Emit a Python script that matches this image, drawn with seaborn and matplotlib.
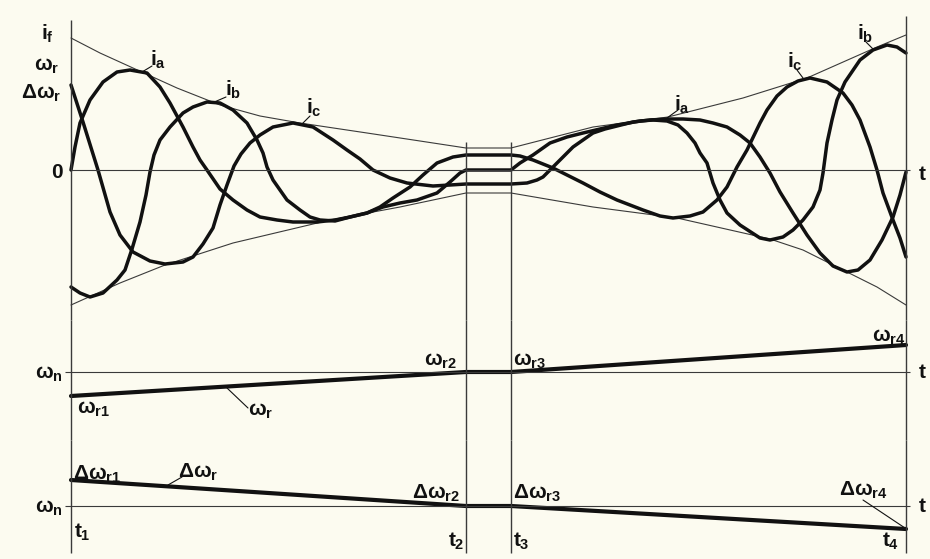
import pandas as pd
import seaborn as sns
import matplotlib.pyplot as plt

t_marks = [0, 395, 440, 835]          # t1, t2, t3, t4

# corrientes de fase (curvas gruesas)
ia_t = [0, 4, 9, 19, 32, 46, 59, 76, 89, 99, 112, 122, 129, 136, 149, 162, 176, 189, 206, 222,
        246, 264, 279, 296, 309, 322, 339, 352, 366, 382, 395, 440, 449, 462, 482, 496, 512, 529,
        546, 572, 589, 602, 619, 632, 646, 656, 666, 676, 689, 696, 706, 716, 727, 739, 756, 772,
        781, 789, 799, 806, 812, 822, 829, 835]
ia_v = [0, 23, 47, 70, 88, 98, 100, 97, 83, 67, 43, 23, 10, 0, -19, -30, -40, -47, -50, -52,
        -52, -50, -47, -43, -37, -28, -17, -5, 7, 13, 15, 15, 14, 10, 2, -5, -13, -22,
        -30, -40, -46, -48, -46, -42, -30, -17, 3, 20, 47, 60, 74, 83, 89, 92, 88, 77,
        65, 50, 23, 0, -23, -50, -68, -87]

ib_t = [0, 9, 19, 32, 46, 54, 61, 69, 75, 79, 83, 89, 99, 112, 122, 136, 149, 162, 176, 186,
        192, 196, 202, 216, 229, 239, 249, 264, 279, 296, 312, 329, 346, 366, 379, 389, 395, 440,
        449, 462, 479, 496, 512, 529, 546, 569, 582, 596, 607, 616, 624, 629, 636, 642, 649, 656,
        669, 689, 699, 712, 722, 732, 742, 749, 752, 756, 761, 766, 774, 789, 802, 816, 826, 835]
ib_v = [-117, -123, -127, -123, -110, -100, -79, -52, -25, -2, 15, 30, 43, 57, 63, 68, 67, 60, 47, 30,
        17, 3, -10, -30, -40, -47, -50, -51, -47, -43, -37, -33, -30, -23, -12, -3, 0, 0,
        7, 15, 27, 33, 37, 41, 45, 49, 50, 49, 45, 37, 27, 17, 7, -13, -30, -43,
        -55, -68, -70, -67, -60, -50, -37, -20, -3, 27, 50, 70, 88, 110, 120, 125, 123, 117]

ic_t = [0, 12, 27, 39, 49, 62, 79, 94, 112, 122, 132, 142, 149, 156, 163, 170, 179, 189, 202, 222,
        242, 262, 276, 289, 302, 319, 336, 362, 379, 395, 440, 456, 466, 472, 479, 486, 494, 502,
        512, 522, 534, 546, 562, 579, 596, 612, 629, 642, 656, 669, 679, 689, 699, 709, 722, 736,
        749, 762, 776, 787, 799, 811, 822, 829, 835]
ic_v = [85, 48, 0, -42, -65, -82, -91, -94, -92, -87, -74, -58, -35, -15, 4, 16, 27, 35, 43, 47,
        43, 30, 20, 11, 0, -8, -13, -16, -15, -14, -14, -13, -10, -7, 0, 7, 15, 23,
        30, 37, 41, 44, 48, 50, 51, 51, 50, 47, 43, 35, 27, 13, -3, -22, -43, -65,
        -83, -96, -102, -100, -90, -70, -47, -25, -2]

# envolventes (lineas finas)
env_up_t = [0, 29, 62, 106, 149, 189, 229, 296, 349, 395, 440, 522, 597, 672, 736, 806, 835]
env_up_v = [132, 117, 102, 82, 65, 54, 47, 37, 29, 22, 22, 43, 53, 72, 92, 123, 135]
env_lo_t = [0, 49, 94, 162, 259, 329, 395, 440, 522, 606, 699, 732, 776, 806, 835]
env_lo_v = [-135, -113, -95, -73, -50, -37, -23, -23, -37, -48, -69, -80, -102, -117, -135]

# velocidad del rotor y deslizamiento
omega_n = 100
omega_r = [76, 100, 100, 127]
delta_omega = [26, 0, 0, -23]

BG = '#fcfbf0'
INK = '#111111'
THIN = '#3a3a3a'
FS = 15

sns.set_theme(style='white')
plt.rcParams['font.family'] = ['Liberation Sans', 'DejaVu Sans']
plt.rcParams['font.weight'] = 'bold'
plt.rcParams['mathtext.fontset'] = 'custom'
for k in ('rm', 'it', 'bf', 'sf'):
    plt.rcParams['mathtext.' + k] = 'Liberation Sans:bold'

df_i = pd.concat([
    pd.DataFrame({'t': ia_t, 'i': ia_v, 'fase': 'a'}),
    pd.DataFrame({'t': ib_t, 'i': ib_v, 'fase': 'b'}),
    pd.DataFrame({'t': ic_t, 'i': ic_v, 'fase': 'c'}),
])
df_env = pd.concat([
    pd.DataFrame({'t': env_up_t, 'i': env_up_v, 'env': 'up'}),
    pd.DataFrame({'t': env_lo_t, 'i': env_lo_v, 'env': 'lo'}),
])

fig = plt.figure(figsize=(9.3, 5.59), dpi=100, facecolor=BG)
L, W = 71 / 930, 835 / 930
ax1 = fig.add_axes([L, 239 / 559, W, 305 / 559])
ax2 = fig.add_axes([L, 119 / 559, W, 120 / 559])
ax3 = fig.add_axes([L, 6 / 559, W, 113 / 559])
ax1.set_ylim(-150, 155)
ax2.set_ylim(32, 152)
ax3.set_ylim(-47, 66)

for ax in (ax1, ax2, ax3):
    ax.set_facecolor('none')
    ax.set_xlim(0, 835)
    ax.set_xticks([])
    for s in ax.spines.values():
        s.set_visible(False)
    ax.tick_params(axis='y', length=0, pad=6, labelsize=FS, labelcolor=INK)

# --- panel de corrientes ---
sns.lineplot(data=df_env, x='t', y='i', units='env', estimator=None, sort=False,
             color=THIN, lw=0.8, ax=ax1)
sns.lineplot(data=df_i, x='t', y='i', hue='fase', palette={'a': INK, 'b': INK, 'c': INK},
             estimator=None, sort=False, lw=2.5, legend=False, ax=ax1)
ax1.hlines(0, 0, 839, color=THIN, lw=0.8)
ax1.vlines(t_marks[0], -150, 150, color=THIN, lw=1.0)
ax1.vlines(t_marks[3], -150, 154, color=THIN, lw=1.0)
ax1.vlines(t_marks[1:3], -150, 28, color=THIN, lw=1.0)
ax1.set_yticks([0])
ax1.set_yticklabels(['0'])
ax1.set_xlabel('')
ax1.set_ylabel('')

# --- panel de velocidad ---
sns.lineplot(x=t_marks, y=omega_r, color=INK, lw=3.0, estimator=None, sort=False, ax=ax2)
ax2.hlines(omega_n, -6, 839, color=THIN, lw=0.8)
ax2.vlines(t_marks, 32, 152, color=THIN, lw=1.0)
ax2.set_yticks([omega_n])
ax2.set_yticklabels([r'$\omega_n$'])

# --- panel de deslizamiento ---
sns.lineplot(x=t_marks, y=delta_omega, color=INK, lw=3.0, estimator=None, sort=False, ax=ax3)
ax3.hlines(0, -6, 839, color=THIN, lw=0.8)
ax3.vlines(t_marks, -47, 66, color=THIN, lw=1.0)
ax3.set_yticks([0])
ax3.set_yticklabels([r'$\omega_n$'])

for ax in (ax1, ax2, ax3):
    for ln in ax.lines:
        ln.set_clip_on(False)
    for c in ax.collections:
        c.set_clip_on(False)


def txt(ax, x, y, s, ha='left'):
    ax.text(x, y, s, ha=ha, va='baseline', fontsize=FS, color=INK, clip_on=False)


def lead(ax, xs, ys):
    ax.plot(xs, ys, color=INK, lw=0.8, clip_on=False)


# rotulos del panel superior
txt(ax1, -17, 130, r'$i_f$', ha='right')
txt(ax1, -12, 99, r'$\omega_r$', ha='right')
txt(ax1, -10, 71, r'$\Delta\omega_r$', ha='right')
txt(ax1, 848, -10, 't')
txt(ax1, 79, 104, r'$i_a$')
lead(ax1, [71, 81], [98, 104])
txt(ax1, 154, 74, r'$i_b$')
lead(ax1, [141, 155], [67, 73])
txt(ax1, 235, 56, r'$i_c$')
lead(ax1, [231, 239], [46, 54])
txt(ax1, 603, 59, r'$i_a$')
lead(ax1, [596, 607], [52, 60])
txt(ax1, 716, 102, r'$i_c$')
lead(ax1, [732, 726], [92, 100])
txt(ax1, 786, 130, r'$i_b$')
lead(ax1, [795, 803], [128, 120])

# rotulos del panel de velocidad
txt(ax2, 848, 94, 't')
txt(ax2, 6, 58, r'$\omega_{r1}$')
txt(ax2, 177, 56, r'$\omega_r$')
lead(ax2, [156, 177], [84, 64])
txt(ax2, 386, 106, r'$\omega_{r2}$', ha='right')
txt(ax2, 442, 106, r'$\omega_{r3}$')
txt(ax2, 834, 130, r'$\omega_{r4}$', ha='right')

# rotulos del panel de deslizamiento
txt(ax3, 848, -6, 't')
txt(ax3, 2, 26, r'$\Delta\omega_{r1}$')
txt(ax3, 107, 28, r'$\Delta\omega_r$')
lead(ax3, [97, 111], [21, 29])
txt(ax3, 389, 7, r'$\Delta\omega_{r2}$', ha='right')
txt(ax3, 442, 7, r'$\Delta\omega_{r3}$')
txt(ax3, 768, 10, r'$\Delta\omega_{r4}$')
lead(ax3, [792, 834], [6, -22])
txt(ax3, 3, -32, r'$t_1$')
txt(ax3, 393, -41, r'$t_2$', ha='right')
txt(ax3, 442, -41, r'$t_3$')
txt(ax3, 828, -41, r'$t_4$', ha='right')

fig.savefig('out.png', dpi=100, facecolor=BG)
